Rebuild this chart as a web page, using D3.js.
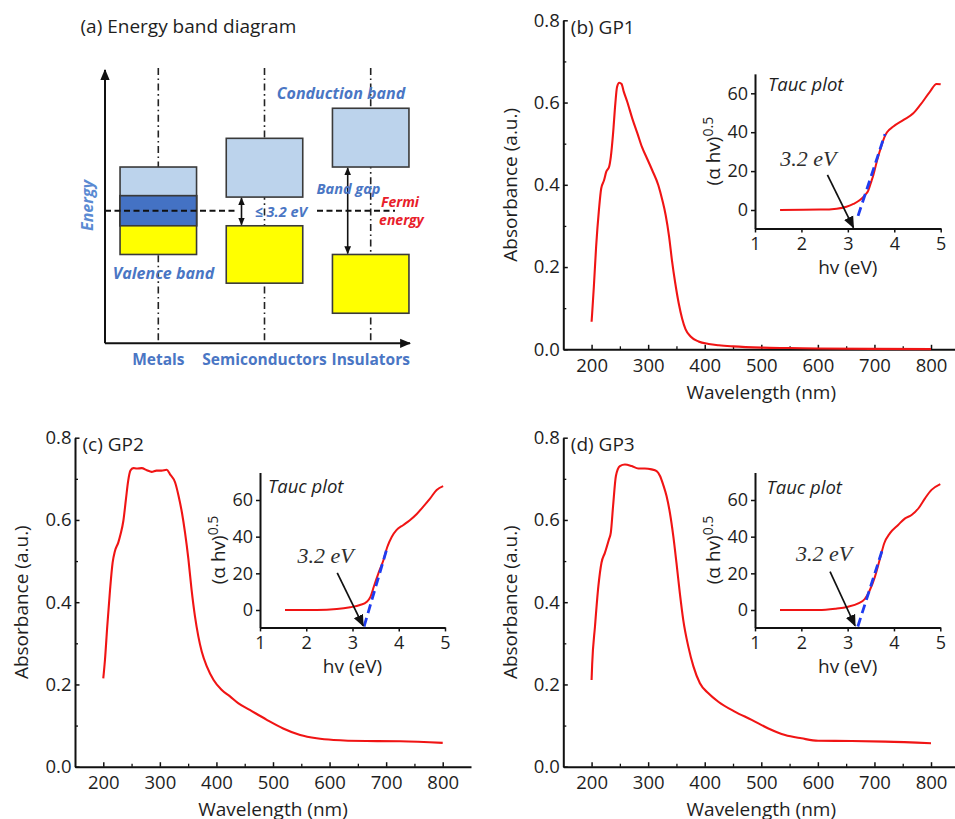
<!DOCTYPE html>
<html>
<head>
<meta charset="utf-8">
<script src="https://cdn.jsdelivr.net/npm/d3@7"></script>
<style>
  html, body { margin: 0; padding: 0; background: #fff; }
  svg { display: block; font-family: "Open Sans", sans-serif; }
</style>
</head>
<body>
<svg id="fig" width="955" height="819"></svg>
<script>
// ---------------- band diagram values (energy in arbitrary units, 0–10) ----------------
const bandCategories = ["Metals", "Semiconductors", "Insulators"];
const conductionTop    = [6.45, 7.5, 8.6];
const conductionBottom = [4.3, 5.35, 6.45];
const valenceTop       = [5.4, 4.3, 3.25];
const valenceBottom    = [3.25, 2.2, 1.1];
const fermiLevel = 4.85;

// ---------------- absorbance spectra: [wavelength nm, absorbance a.u.] ----------------
const gp1Absorbance = [
  [200,0.067],[201,0.087],[204,0.152],[208,0.249],[213,0.339],[217,0.391],[222,0.411],[226,0.432],
  [231,0.444],[234,0.468],[238,0.525],[242,0.598],[245,0.638],[249,0.648],[253,0.645],[257,0.626],
  [263,0.602],[272,0.561],[281,0.525],[289,0.492],[298,0.464],[307,0.436],[318,0.399],[325,0.363],
  [331,0.326],[337,0.274],[342,0.217],[348,0.160],[354,0.112],[360,0.075],[366,0.049],[375,0.031],
  [389,0.019],[407,0.013],[425,0.0097],[450,0.007],[500,0.004],[550,0.003],[600,0.002],[700,0.001],[800,0.0005]
];
const gp2Absorbance = [
  [200,0.215],[203,0.26],[207,0.341],[212,0.431],[216.5,0.496],[220.5,0.524],[226.5,0.545],[230.5,0.565],
  [235.5,0.598],[240,0.65],[244,0.695],[248,0.72],[253,0.726],[259,0.725],[268,0.726],[277,0.721],
  [285.5,0.717],[294,0.72],[303,0.72],[312,0.722],[318,0.711],[327,0.691],[333,0.659],[339,0.618],
  [344.5,0.569],[350.5,0.504],[356,0.431],[362,0.366],[368,0.317],[374,0.28],[383,0.244],[395,0.211],
  [409,0.187],[424,0.171],[439,0.154],[459,0.138],[489,0.114],[518,0.093],[548,0.077],[577,0.069],
  [607,0.065],[665,0.0625],[725,0.062],[800,0.058]
];
const gp3Absorbance = [
  [200,0.211],[201,0.248],[206,0.341],[212,0.439],[217.5,0.496],[223.5,0.52],[230.5,0.552],[234,0.569],
  [238,0.634],[243,0.707],[250,0.731],[259,0.735],[271,0.731],[282.5,0.725],[294,0.725],[306,0.723],
  [315,0.719],[321,0.707],[326.5,0.686],[332.5,0.658],[338.5,0.617],[344.5,0.56],[350,0.496],[356,0.422],
  [362,0.357],[371,0.292],[380,0.244],[391.5,0.203],[406,0.179],[424,0.158],[453,0.134],[483,0.114],
  [512.5,0.093],[542,0.077],[571,0.069],[600.5,0.063],[660,0.0625],[719,0.061],[800,0.057]
];

// ---------------- Tauc plots: [hv eV, (alpha hv)^0.5] ----------------
const gp1Tauc = [
  [1.54,0],[2.4,0.2],[2.76,0.7],[2.97,1.7],[3.12,3.1],[3.26,5.1],[3.37,7.7],[3.44,10],[3.51,15],
  [3.55,18],[3.62,24.5],[3.66,28],[3.73,33.5],[3.78,37],[3.84,39.8],[3.98,42.9],[4.2,46.3],
  [4.41,49.7],[4.56,54],[4.77,60.9],[4.91,64.8],[5.0,64.6]
];
const gp2Tauc = [
  [1.54,0],[2.23,0],[2.66,0.5],[2.95,1.5],[3.16,2.7],[3.31,4.5],[3.39,7.3],[3.46,12.7],[3.56,20],
  [3.67,27.3],[3.75,34.2],[3.85,40],[3.95,43.6],[4.1,46.4],[4.24,49],[4.39,52.4],[4.53,56.4],
  [4.68,60.9],[4.82,65.5],[4.96,67.6]
];
const gp3Tauc = [
  [1.54,0],[2.37,0],[2.73,0.7],[3.01,1.8],[3.23,3.6],[3.37,6],[3.48,10.9],[3.59,18.2],[3.70,28.2],
  [3.79,36.4],[3.91,41.8],[4.09,46.4],[4.24,50],[4.38,51.8],[4.53,55.5],[4.67,60.9],[4.81,65.5],[5.0,68.7]
];
// linear fits of the absorption edge (start, end)
const gp1Fit = [[3.22,-3],[3.80,39]];
const gp2Fit = [[3.25,-9],[3.75,34]];
const gp3Fit = [[3.22,-9],[3.77,34.5]];
// annotation arrows pointing at the band-gap intercept (tail, tip)
const gp1Arrow = [[2.56,18],[3.12,-9]];
const gp2Arrow = [[2.67,20.3],[3.23,-8.6]];
const gp3Arrow = [[2.62,20.9],[3.16,-8.6]];
const bandGapText = "3.2 eV";

// ---------------- tick values ----------------
const wavelengthTicks = [200,300,400,500,600,700,800];
const wavelengthMinor = [250,350,450,550,650,750];
const absorbanceTicks = [0,0.2,0.4,0.6,0.8];
const absorbanceMinor = [0.1,0.3,0.5,0.7];
const photonEnergyTicks = [1,2,3,4,5];
const taucTicks = [0,20,40,60];

// ---------------- drawing ----------------
const svg = d3.select("#fig");
const defs = svg.append("defs");
function marker(id, size, color) {
  defs.append("marker")
    .attr("id", id).attr("viewBox", "0 0 10 10")
    .attr("refX", 9).attr("refY", 5)
    .attr("markerWidth", size).attr("markerHeight", size)
    .attr("markerUnits", "userSpaceOnUse")
    .attr("orient", "auto-start-reverse")
    .append("path").attr("d", "M0,0.8 L10,5 L0,9.2 z").attr("fill", color);
}
marker("axisHead", 11, "#111");
marker("gapHead", 8, "#111");
marker("tipHead", 12, "#111");

const TEXT = "#1e1e1e";
const BLUE_TXT = "#4a76c4";

// ===== (a) energy band diagram =====
(function bandDiagram() {
  const g = svg.append("g");
  const E = d3.scaleLinear().domain([0, 10]).range([343.3, 70]);
  const X = d3.scalePoint().domain(bandCategories).range([158.3, 370.7]);
  const boxW = 76.5;

  g.append("text").attr("x", 80.5).attr("y", 26.7).attr("dy", "0.35em")
    .attr("font-size", 19).attr("fill", TEXT).text("(a) Energy band diagram");

  // dash-dot guides
  g.selectAll("line.guide").data(bandCategories).join("line")
    .attr("x1", d => X(d)).attr("x2", d => X(d))
    .attr("y1", 68).attr("y2", E(0))
    .attr("stroke", "#222").attr("stroke-width", 1.6)
    .attr("stroke-dasharray", "7,3.5,1.6,3.5");

  // axes with arrows
  g.append("line").attr("x1", 105).attr("y1", E(0)).attr("x2", 105).attr("y2", 70)
    .attr("stroke", "#111").attr("stroke-width", 2).attr("marker-end", "url(#axisHead)");
  g.append("line").attr("x1", 105).attr("y1", E(0)).attr("x2", 410).attr("y2", E(0))
    .attr("stroke", "#111").attr("stroke-width", 2).attr("marker-end", "url(#axisHead)");

  const idx = d3.range(bandCategories.length);
  const boxStroke = "#3a3a3a";
  // conduction bands
  g.selectAll("rect.cb").data(idx).join("rect")
    .attr("x", i => X(bandCategories[i]) - boxW / 2).attr("width", boxW)
    .attr("y", i => E(conductionTop[i]))
    .attr("height", i => E(conductionBottom[i]) - E(conductionTop[i]))
    .attr("fill", "#bcd3ec").attr("stroke", boxStroke).attr("stroke-width", 1.6);
  // valence bands
  g.selectAll("rect.vb").data(idx).join("rect")
    .attr("x", i => X(bandCategories[i]) - boxW / 2).attr("width", boxW)
    .attr("y", i => E(valenceTop[i]))
    .attr("height", i => E(valenceBottom[i]) - E(valenceTop[i]))
    .attr("fill", "#ffff00").attr("stroke", boxStroke).attr("stroke-width", 1.6);
  // overlapping bands (metals)
  const overlap = idx.filter(i => valenceTop[i] > conductionBottom[i]);
  g.selectAll("rect.ov").data(overlap).join("rect")
    .attr("x", i => X(bandCategories[i]) - boxW / 2).attr("width", boxW)
    .attr("y", i => E(valenceTop[i]))
    .attr("height", i => E(conductionBottom[i]) - E(valenceTop[i]))
    .attr("fill", "#4472c4").attr("stroke", boxStroke).attr("stroke-width", 1.6);

  // Fermi level (broken around the gap label)
  [[105, 237], [317, 395]].forEach(([a, b]) => {
    g.append("line").attr("x1", a).attr("x2", b)
      .attr("y1", E(fermiLevel)).attr("y2", E(fermiLevel))
      .attr("stroke", "#111").attr("stroke-width", 2).attr("stroke-dasharray", "6,3.5");
  });

  // band-gap arrows
  idx.filter(i => valenceTop[i] < conductionBottom[i]).forEach(i => {
    const xa = X(bandCategories[i]) - 23;
    g.append("line").attr("x1", xa).attr("x2", xa)
      .attr("y1", E(conductionBottom[i]) + 1).attr("y2", E(valenceTop[i]) - 1)
      .attr("stroke", "#111").attr("stroke-width", 1.6)
      .attr("marker-start", "url(#gapHead)").attr("marker-end", "url(#gapHead)");
  });

  const lab = (x, y, t, size, fill, opts = {}) =>
    g.append("text").attr("x", x).attr("y", y).attr("dy", "0.35em")
      .attr("text-anchor", "middle").attr("font-size", size).attr("fill", fill)
      .attr("font-weight", opts.weight || "bold").attr("font-style", opts.style || "italic")
      .attr("transform", opts.rot ? `rotate(-90,${x},${y})` : null)
      .text(t);

  lab(341, 93.3, "Conduction band", 16, BLUE_TXT);
  lab(348.5, 189.3, "Band gap", 14.5, BLUE_TXT);
  lab(281, 212.3, "\u2264 3.2 eV", 14.5, BLUE_TXT);
  lab(163.5, 273.3, "Valence band", 16, BLUE_TXT);
  lab(400, 202.2, "Fermi", 14, "#e8202a");
  lab(401.5, 219.8, "energy", 14, "#e8202a");
  lab(87, 205.5, "Energy", 16, "#5a8ad2", { rot: true });
  bandCategories.forEach(c => lab(X(c), 359.3, c, 15.5, BLUE_TXT, { style: "normal" }));
})();

// ===== (b)–(d) absorbance panels with Tauc insets =====
const panels = [
  { label: "(b) GP1", left: 563.3, bottom: 349.3, spectrum: gp1Absorbance,
    inset: { left: 755, right: 940.7, zeroY: 210, per60: 116.7, top: 70, tauc: gp1Tauc, fit: gp1Fit, arrow: gp1Arrow,
             note: [2.15, 26.7], title: [13, 11] } },
  { label: "(c) GP2", left: 75, bottom: 766.7, spectrum: gp2Absorbance,
    inset: { left: 260, right: 445, zeroY: 610, per60: 110, top: 75, tauc: gp2Tauc, fit: gp2Fit, arrow: gp2Arrow,
             note: [2.42, 30], title: [8, 14] } },
  { label: "(d) GP3", left: 563.3, bottom: 766.7, spectrum: gp3Absorbance,
    inset: { left: 755, right: 940.3, zeroY: 610, per60: 110, top: 75, tauc: gp3Tauc, fit: gp3Fit, arrow: gp3Arrow,
             note: [2.49, 31], title: [11.5, 15.5] } }
];

function styleAxis(sel, fontSize) {
  sel.select(".domain").attr("stroke", "#111").attr("stroke-width", 2);
  sel.selectAll(".tick line").attr("stroke", "#111").attr("stroke-width", 1.5);
  sel.selectAll(".tick text").attr("font-size", fontSize).attr("fill", TEXT)
    .attr("font-family", "'Open Sans', sans-serif");
}

panels.forEach(p => {
  const g = svg.append("g");
  const W = 396, H = 329;
  const x = d3.scaleLinear().domain([150, 850]).range([p.left, p.left + W]);
  const y = d3.scaleLinear().domain([0, 0.8]).range([p.bottom, p.bottom - H]);

  // minor ticks
  g.append("g").attr("transform", `translate(0,${p.bottom})`)
    .call(d3.axisBottom(x).tickValues(wavelengthMinor).tickSizeInner(-3).tickSizeOuter(0).tickFormat(""))
    .call(s => { s.select(".domain").remove(); s.selectAll("line").attr("stroke", "#111").attr("stroke-width", 1.3); });
  g.append("g").attr("transform", `translate(${p.left},0)`)
    .call(d3.axisLeft(y).tickValues(absorbanceMinor).tickSizeInner(-3).tickSizeOuter(0).tickFormat(""))
    .call(s => { s.select(".domain").remove(); s.selectAll("line").attr("stroke", "#111").attr("stroke-width", 1.3); });

  g.append("g").attr("transform", `translate(0,${p.bottom})`)
    .call(d3.axisBottom(x).tickValues(wavelengthTicks).tickFormat(d3.format("d"))
      .tickSizeInner(-4.5).tickSizeOuter(0).tickPadding(9.5))
    .call(s => styleAxis(s, 18.5));
  g.append("g").attr("transform", `translate(${p.left},0)`)
    .call(d3.axisLeft(y).tickValues(absorbanceTicks).tickFormat(d3.format(".1f"))
      .tickSizeInner(-4.5).tickSizeOuter(0).tickPadding(3.5))
    .call(s => styleAxis(s, 18.5));

  g.append("text").attr("x", p.left + W / 2).attr("y", p.bottom + 43).attr("dy", "0.35em")
    .attr("text-anchor", "middle").attr("font-size", 19).attr("fill", TEXT).text("Wavelength (nm)");
  const ay = p.bottom - H / 2, ax = p.left - 53.3;
  g.append("text").attr("transform", `translate(${ax},${ay}) rotate(-90)`).attr("dy", "0.35em")
    .attr("text-anchor", "middle").attr("font-size", 19).attr("fill", TEXT).text("Absorbance (a.u.)");
  g.append("text").attr("x", p.left + 7.5).attr("y", p.bottom - H + 7).attr("dy", "0.35em")
    .attr("font-size", 19).attr("fill", TEXT).text(p.label);

  g.append("path").datum(p.spectrum)
    .attr("d", d3.line().x(d => x(d[0])).y(d => y(d[1])).curve(d3.curveMonotoneX))
    .attr("fill", "none").attr("stroke", "#f01414").attr("stroke-width", 2.1)
    .attr("stroke-linejoin", "round");

  // ---- inset ----
  const q = p.inset;
  const ix = d3.scaleLinear().domain([1, 5]).range([q.left, q.right]);
  const k = q.per60 / 60;
  const iy = d3.scaleLinear().domain([-9.5, q.top]).range([q.zeroY + 9.5 * k, q.zeroY - q.top * k]);
  const gi = g.append("g");
  const ib = iy(-9.5), it = iy(q.top);

  gi.append("g").attr("transform", `translate(0,${ib})`)
    .call(d3.axisBottom(ix).tickValues(photonEnergyTicks).tickFormat(d3.format("d"))
      .tickSizeInner(4).tickSizeOuter(0).tickPadding(4.5))
    .call(s => styleAxis(s, 18));
  gi.append("g").attr("transform", `translate(${q.left},0)`)
    .call(d3.axisLeft(iy).tickValues(taucTicks).tickFormat(d3.format("d"))
      .tickSizeInner(4).tickSizeOuter(0).tickPadding(3))
    .call(s => styleAxis(s, 18));

  gi.append("text").attr("x", (q.left + q.right) / 2).attr("y", ib + 38.5).attr("dy", "0.35em")
    .attr("text-anchor", "middle").attr("font-size", 19).attr("fill", TEXT).text("hv (eV)");
  const yl = gi.append("text")
    .attr("transform", `translate(${q.left - 35},${(ib + it) / 2}) rotate(-90)`)
    .attr("text-anchor", "middle").attr("font-size", 19).attr("fill", TEXT);
  yl.append("tspan").text("(\u03b1 hv)");
  yl.append("tspan").attr("dy", "-0.5em").attr("font-size", 14).text("0.5");

  gi.append("text").attr("x", q.left + q.title[0]).attr("y", it + q.title[1]).attr("dy", "0.35em")
    .attr("font-size", 18.5).attr("font-style", "italic").attr("fill", TEXT).text("Tauc plot");

  const il = d3.line().x(d => ix(d[0])).y(d => iy(d[1]));
  gi.append("path").datum(q.tauc).attr("d", il.curve(d3.curveMonotoneX))
    .attr("fill", "none").attr("stroke", "#f01414").attr("stroke-width", 2);
  gi.append("path").datum(q.fit).attr("d", d3.line().x(d => ix(d[0])).y(d => iy(d[1])))
    .attr("fill", "none").attr("stroke", "#1f3cf0").attr("stroke-width", 2.8)
    .attr("stroke-dasharray", "9,5");

  gi.append("line")
    .attr("x1", ix(q.arrow[0][0])).attr("y1", iy(q.arrow[0][1]))
    .attr("x2", ix(q.arrow[1][0])).attr("y2", iy(q.arrow[1][1]))
    .attr("stroke", "#111").attr("stroke-width", 1.7).attr("marker-end", "url(#tipHead)");
  gi.append("text").attr("x", ix(q.note[0])).attr("y", iy(q.note[1])).attr("dy", "0.35em")
    .attr("text-anchor", "middle").attr("font-family", "'Liberation Serif', 'Times New Roman', serif")
    .attr("font-style", "italic").attr("font-size", 22).attr("fill", "#2e2e2e").text(bandGapText);
});
</script>
</body>
</html>
